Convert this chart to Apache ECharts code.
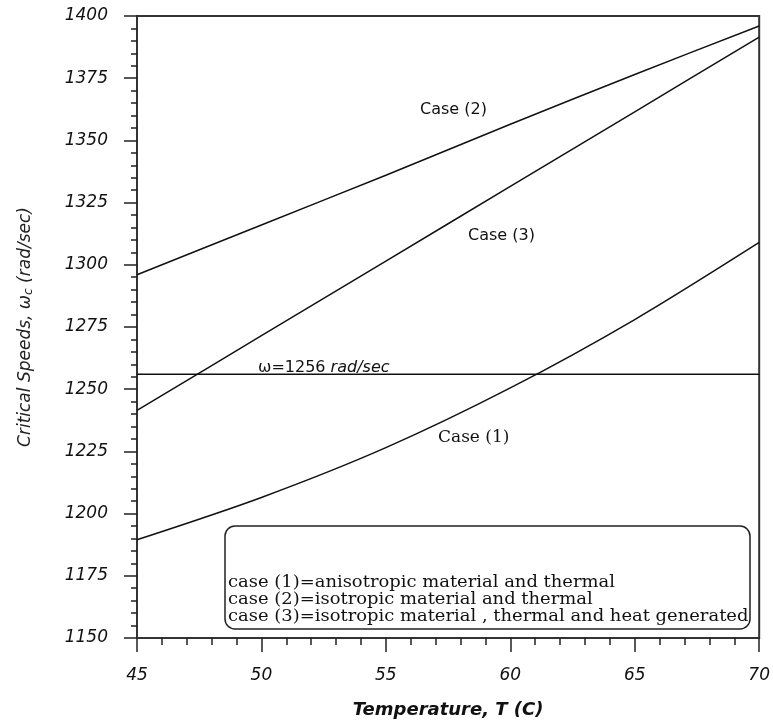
<!DOCTYPE html>
<html>
<head>
<meta charset="utf-8">
<script src="https://cdn.jsdelivr.net/npm/echarts@6/dist/echarts.min.js"></script>
<style>
html,body{margin:0;padding:0;background:#fff;}
#chart-container{width:773px;height:724px;}
</style>
</head>
<body>
<div id="chart-container"></div>
<script>
// values
var temps=[45,50,55,60,65,70];
var case1=[1189.5,1206.5,1226.5,1250.5,1278,1309];
var case2=[1296,1316,1336,1356.5,1376.5,1396];
var case3=[1241.5,1271.5,1301.5,1331.5,1361.5,1391.5];
var OMEGA=1256;
var legendLines=[
    'case (1)=anisotropic material and thermal',
    'case (2)=isotropic material and thermal',
    'case (3)=isotropic material , thermal and heat generated'
];

function pairs(xs,ys){
    var out=[];
    xs.forEach(function(x,i){ out.push([x,ys[i]]); });
    return out;
}

var myChart=echarts.init(document.getElementById('chart-container'));
var lineStyle={color:'#111',width:1.5};
var tickColor='#222';
var plain=function(v){ return String(v); };

var option={
    animation:false,
    grid:{left:137,right:11,top:16,bottom:81,show:true,borderColor:'#333',borderWidth:2},
    xAxis:{
        type:'value',min:45,max:70,interval:5,
        name:'Temperature, T (C)',nameLocation:'middle',nameGap:63,
        nameTextStyle:{fontFamily:'DejaVu Sans',fontSize:18,fontWeight:'bold',fontStyle:'italic',color:'#111'},
        axisLine:{show:true,lineStyle:{color:'#333',width:2}},
        axisTick:{show:true,length:14,lineStyle:{color:tickColor,width:1.5}},
        minorTick:{show:true,splitNumber:5,length:7,lineStyle:{color:tickColor,width:1.5}},
        splitLine:{show:false},
        axisLabel:{margin:29,formatter:plain,fontFamily:'DejaVu Sans',fontSize:17,fontStyle:'italic',color:'#111'}
    },
    yAxis:{
        type:'value',min:1150,max:1400,interval:25,
        name:'{t|Critical Speeds, ω}{s|c}{t| (rad/sec)}',nameLocation:'middle',nameGap:102,nameRotate:90,
        nameTextStyle:{
            rich:{
                t:{fontFamily:'DejaVu Sans',fontSize:17,fontStyle:'italic',color:'#222'},
                s:{fontFamily:'DejaVu Sans',fontSize:12,fontStyle:'italic',color:'#222',verticalAlign:'bottom',padding:[7,0,0,0]}
            }
        },
        axisLine:{show:true,lineStyle:{color:'#333',width:2}},
        axisTick:{show:true,length:13,lineStyle:{color:tickColor,width:1.5}},
        minorTick:{show:true,splitNumber:5,length:6,lineStyle:{color:tickColor,width:1.5}},
        splitLine:{show:false},
        axisLabel:{margin:29,formatter:plain,fontFamily:'DejaVu Sans',fontSize:17,fontStyle:'italic',color:'#111'}
    },
    series:[
        {name:'Case (1)',type:'line',smooth:0.3,symbol:'none',lineStyle:lineStyle,data:pairs(temps,case1)},
        {name:'Case (2)',type:'line',smooth:0.3,symbol:'none',lineStyle:lineStyle,data:pairs(temps,case2)},
        {name:'Case (3)',type:'line',smooth:0.3,symbol:'none',lineStyle:lineStyle,data:pairs(temps,case3)},
        {name:'omega',type:'line',symbol:'none',lineStyle:lineStyle,data:[[45,OMEGA],[70,OMEGA]]}
    ],
    graphic:[
        {type:'text',left:420,top:102,style:{text:'Case (2)',font:'16px "DejaVu Sans"',fill:'#111'}},
        {type:'text',left:468,top:228,style:{text:'Case (3)',font:'16px "DejaVu Sans"',fill:'#111'}},
        {type:'text',left:438,top:429,style:{text:'Case (1)',font:'17px "DejaVu Serif"',fill:'#111'}},
        {type:'text',left:258,top:360,style:{
            text:'{n|ω=1256 }{i|rad/sec}',
            rich:{
                n:{fontFamily:'DejaVu Sans',fontSize:16,fill:'#111'},
                i:{fontFamily:'DejaVu Sans',fontSize:16,fontStyle:'italic',fill:'#111'}
            }
        }},
        {type:'rect',shape:{x:225,y:526,width:525,height:103,r:10},style:{fill:'#fff',stroke:'#222',lineWidth:1.5}},
        {type:'text',left:228,top:574,scaleX:1.055,style:{text:legendLines.join('\n'),font:'17px "DejaVu Serif"',lineHeight:17,fill:'#111'}}
    ]
};
myChart.setOption(option);
</script>
</body>
</html>
